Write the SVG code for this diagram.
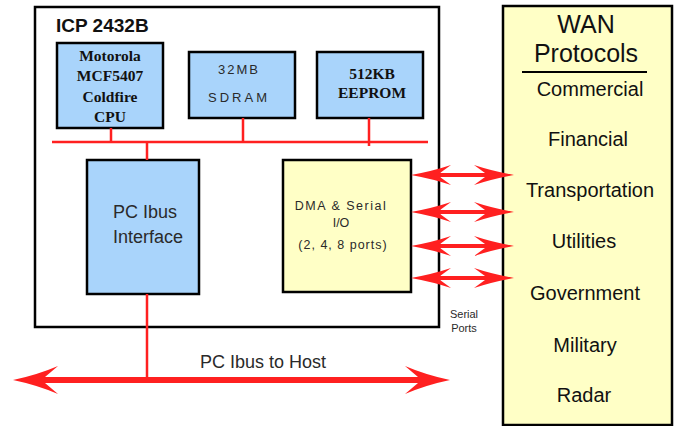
<svg xmlns="http://www.w3.org/2000/svg" width="674" height="426" viewBox="0 0 674 426">
<style>
.box{stroke:#000;stroke-width:2.5}
.blue{fill:#A9D4FB}
.yel{fill:#FFFFC6}
.bus{stroke:#FF2020;stroke-width:2.5;fill:none}
.arr{fill:#FF2020;stroke:none}
.gray{font-family:"Liberation Sans",Arial,sans-serif;fill:#2a2a2a}
.ser{font-family:"Liberation Serif","Times New Roman",serif;font-weight:bold;font-size:15.5px;fill:#111;text-anchor:middle}
.wan{font-family:"Liberation Sans",Arial,sans-serif;font-size:20px;fill:#111;text-anchor:middle}
.big{font-size:25px}
</style>
<rect width="674" height="426" fill="#fff"/>
<g id="board">
<rect class="box" x="35" y="7" width="404" height="320" fill="#fff"/>
<text x="56" y="32" font-family="Liberation Sans,Arial,sans-serif" font-weight="bold" font-size="19" fill="#111">ICP 2432B</text>
</g>
<g id="cpu">
<rect class="box blue" x="57" y="43" width="106" height="85"/>
<text class="ser" x="110" y="61">Motorola</text>
<text class="ser" x="110" y="81">MCF5407</text>
<text class="ser" x="110" y="102">Coldfire</text>
<text class="ser" x="110" y="122">CPU</text>
</g>
<g id="sdram">
<rect class="box blue" x="189" y="52" width="106" height="66"/>
<text class="gray" x="239" y="74" font-size="13" text-anchor="middle" letter-spacing="2">32MB</text>
<text class="gray" x="239" y="102" font-size="13" text-anchor="middle" letter-spacing="3">SDRAM</text>
</g>
<g id="eeprom">
<rect class="box blue" x="317" y="52" width="106" height="66"/>
<text class="ser" x="372" y="79">512KB</text>
<text class="ser" x="372" y="98">EEPROM</text>
</g>
<g id="pci">
<rect class="box blue" x="87" y="160" width="112" height="134"/>
<text class="gray" x="113" y="218" font-size="18">PC Ibus</text>
<text class="gray" x="113" y="243" font-size="18">Interface</text>
</g>
<g id="dma">
<rect class="box yel" x="283" y="160" width="128" height="132"/>
<text class="gray" x="341" y="210" font-size="12.5" text-anchor="middle" letter-spacing="1.5">DMA &amp; Serial</text>
<text class="gray" x="341" y="227" font-size="12.5" text-anchor="middle">I/O</text>
<text class="gray" x="343" y="249" font-size="12.5" text-anchor="middle" letter-spacing="1">(2, 4, 8 ports)</text>
</g>
<g id="wan">
<rect class="box yel" x="503" y="6" width="169" height="419"/>
<text class="wan big" x="586" y="33">WAN</text>
<text class="wan big" x="586" y="62">Protocols</text>
<line x1="522" y1="72" x2="647" y2="72" stroke="#000" stroke-width="2"/>
<text class="wan" x="590" y="96">Commercial</text>
<text class="wan" x="588" y="146">Financial</text>
<text class="wan" x="590" y="197">Transportation</text>
<text class="wan" x="584" y="248">Utilities</text>
<text class="wan" x="585" y="300">Government</text>
<text class="wan" x="585" y="352">Military</text>
<text class="wan" x="584" y="402">Radar</text>
</g>
<g id="labels">
<text class="gray" x="263" y="368" font-size="18" text-anchor="middle">PC Ibus to Host</text>
<text class="gray" x="464" y="318" font-size="11" text-anchor="middle">Serial</text>
<text class="gray" x="464" y="332" font-size="11" text-anchor="middle">Ports</text>
</g>
<g id="connectors">
<path class="bus" d="M52 142H428M111 128V142M243 118V142M369 118V146M147 142V160M147 294V380"/>
<path class="arr" d="M411 175Q433 171 451 165L440 173H485L474 165Q492 171 514 175Q492 179 474 185L485 177H440L451 185Q433 179 411 175Z"/>
<path class="arr" d="M411 212Q433 208 451 202L440 210H485L474 202Q492 208 514 212Q492 216 474 222L485 214H440L451 222Q433 216 411 212Z"/>
<path class="arr" d="M411 246Q433 242 451 236L440 244H485L474 236Q492 242 514 246Q492 250 474 256L485 248H440L451 256Q433 250 411 246Z"/>
<path class="arr" d="M411 278Q433 274 451 268L440 276H485L474 268Q492 274 514 278Q492 282 474 288L485 280H440L451 288Q433 282 411 278Z"/>
<path class="arr" d="M13 380Q37 375 58 366L45 377H418L405 366Q426 375 450 380Q426 385 405 394L418 383H45L58 394Q37 385 13 380Z"/>
</g>
</svg>
